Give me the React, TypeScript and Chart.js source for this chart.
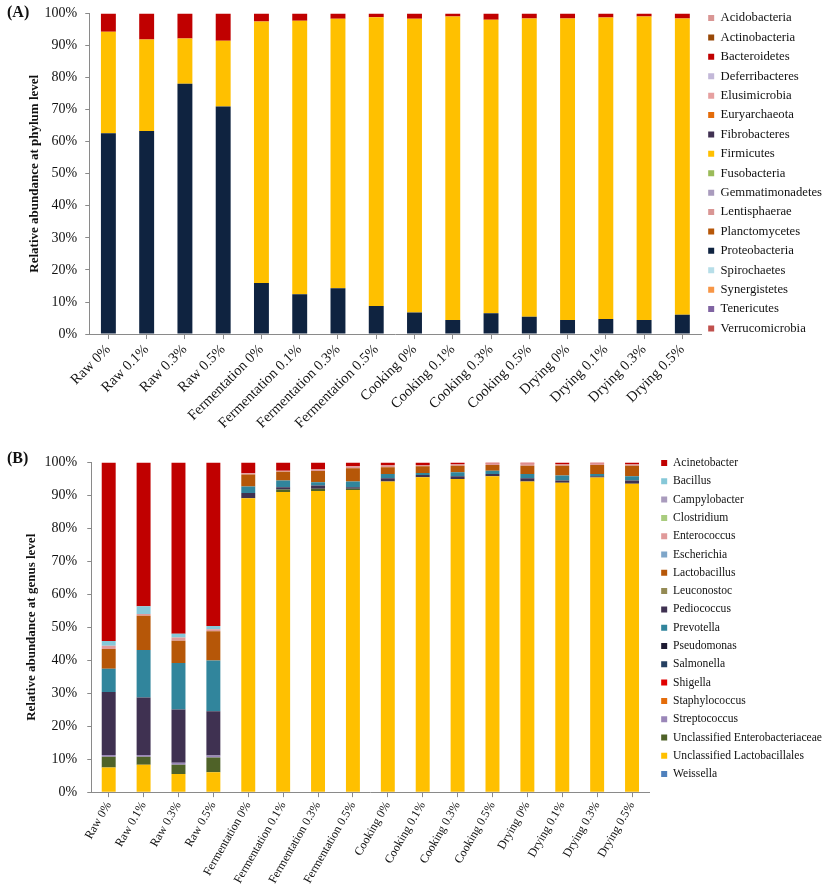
import React, { useEffect, useRef } from "react";
import { Chart, registerables } from "chart.js";

Chart.register(...registerables);

const samples = [
  "Raw 0%", "Raw 0.1%", "Raw 0.3%", "Raw 0.5%",
  "Fermentation 0%", "Fermentation 0.1%", "Fermentation 0.3%", "Fermentation 0.5%",
  "Cooking 0%", "Cooking 0.1%", "Cooking 0.3%", "Cooking 0.5%",
  "Drying 0%", "Drying 0.1%", "Drying 0.3%", "Drying 0.5%",
];

const yTicks = [0, 10, 20, 30, 40, 50, 60, 70, 80, 90, 100];

// ---- (A) phylum level, stacking order bottom -> top ----
const proteobacteria = [62.6, 63.3, 78.1, 71.0, 15.9, 12.4, 14.3, 8.8, 6.7, 4.4, 6.5, 5.4, 4.4, 4.7, 4.4, 6.0];
const firmicutes = [31.7, 28.6, 14.1, 20.5, 81.6, 85.3, 84.0, 90.0, 91.6, 94.6, 91.5, 93.0, 94.0, 94.0, 94.6, 92.4];
const bacteroidetes = [5.7, 8.1, 7.8, 8.5, 2.5, 2.3, 1.7, 1.2, 1.7, 1.0, 2.0, 1.6, 1.6, 1.3, 1.0, 1.6];
const phylumZero = [0, 0, 0, 0, 0, 0, 0, 0, 0, 0, 0, 0, 0, 0, 0, 0];

const phylumNames = [
  "Verrucomicrobia", "Tenericutes", "Synergistetes", "Spirochaetes", "Proteobacteria",
  "Planctomycetes", "Lentisphaerae", "Gemmatimonadetes", "Fusobacteria", "Firmicutes",
  "Fibrobacteres", "Euryarchaeota", "Elusimicrobia", "Deferribacteres", "Bacteroidetes",
  "Actinobacteria", "Acidobacteria",
];
const phylumValues = [
  phylumZero, phylumZero, phylumZero, phylumZero, proteobacteria,
  phylumZero, phylumZero, phylumZero, phylumZero, firmicutes,
  phylumZero, phylumZero, phylumZero, phylumZero, bacteroidetes,
  phylumZero, phylumZero,
];
const phylumColors = [
  "#C0504D", "#8064A2", "#F79646", "#B7DEE8", "#0F2340",
  "#B65708", "#D99694", "#A99BBD", "#9BBB59", "#FFC000",
  "#403152", "#E46C0A", "#E6A0A0", "#C3B8D8", "#C00000",
  "#984807", "#D99694",
];

// ---- (B) genus level, stacking order bottom -> top ----
const unclLactobacillales = [7.5, 8.3, 5.5, 6.0, 89.1, 91.0, 91.3, 91.6, 94.2, 95.5, 95.0, 95.8, 94.2, 93.8, 95.4, 93.5];
const unclEnterobacteriaceae = [3.2, 2.4, 2.8, 4.5, 0, 0.8, 0.7, 0.4, 0, 0, 0, 0, 0, 0, 0, 0];
const streptococcus = [0.6, 0.6, 0.6, 0.6, 0, 0, 0, 0, 0, 0, 0, 0, 0, 0, 0, 0];
const pediococcus = [19.1, 17.4, 16.2, 13.4, 1.6, 0.7, 1.0, 0.5, 1.0, 0.7, 0.8, 0.7, 1.0, 0.7, 0.4, 1.0];
const prevotella = [7.0, 14.4, 14.1, 15.4, 2.0, 2.0, 1.0, 1.7, 1.3, 0.6, 1.2, 1.0, 1.3, 1.5, 0.7, 1.3];
const lactobacillus = [6.0, 10.4, 6.7, 8.9, 3.6, 2.7, 3.4, 4.0, 2.0, 2.0, 2.0, 1.7, 2.5, 3.0, 2.7, 3.2];
const enterococcus = [1.0, 0.5, 1.0, 0.6, 0.4, 0.3, 0.6, 0.6, 0.7, 0.4, 0.5, 0.5, 0.7, 0.5, 0.5, 0.5];
const bacillus = [1.4, 2.4, 1.1, 1.0, 0, 0, 0, 0, 0, 0, 0, 0, 0, 0, 0, 0];
const acinetobacter = [54.2, 43.6, 52.0, 49.6, 3.3, 2.5, 2.0, 1.2, 0.8, 0.8, 0.5, 0.3, 0.3, 0.5, 0.3, 0.5];
const genusZero = [0, 0, 0, 0, 0, 0, 0, 0, 0, 0, 0, 0, 0, 0, 0, 0];

const genusNames = [
  "Weissella", "Unclassified Lactobacillales", "Unclassified Enterobacteriaceae", "Streptococcus",
  "Staphylococcus", "Shigella", "Salmonella", "Pseudomonas", "Pediococcus", "Prevotella",
  "Leuconostoc", "Lactobacillus", "Escherichia", "Enterococcus", "Clostridium",
  "Campylobacter", "Bacillus", "Acinetobacter",
];
const genusValues = [
  genusZero, unclLactobacillales, unclEnterobacteriaceae, streptococcus,
  genusZero, genusZero, genusZero, genusZero, pediococcus, prevotella,
  genusZero, lactobacillus, genusZero, enterococcus, genusZero,
  genusZero, bacillus, acinetobacter,
];
const genusColors = [
  "#4F81BD", "#FFC000", "#4F6228", "#9A86B8",
  "#E46C0A", "#E00000", "#254061", "#1E1B33", "#3F3151", "#31859C",
  "#948A54", "#B65708", "#7FA6C9", "#E09A9A", "#A9CC7E",
  "#A99BBD", "#86C8D8", "#C00000",
];

const FONT = "'Liberation Serif', 'Times New Roman', serif";

interface Look {
  yTitle: string;
  legendFont: number;
  legendPad: number;
  legendOffset: number;
  legendGap: number;
  barPct: number;
  xFont: number;
  xRot: number;
  yTickPad: number;
  titleGap: number;
  padding: any;
}

// widens the space between plot area and legend without moving the legend itself
function legendGapPlugin(gap: number): any {
  return {
    id: "legendGap",
    afterInit(chart: any) {
      const lg = chart.legend;
      if (!lg || gap === 0) return;
      const orig = lg.fit.bind(lg);
      lg.fit = () => {
        orig();
        lg.width += gap;
      };
    },
    afterLayout(chart: any) {
      const lg = chart.legend;
      if (!lg || gap === 0) return;
      lg.left += gap;
    },
  };
}

function makeConfig(names: string[], values: number[][], colors: string[], look: Look): any {
  return {
    type: "bar",
    data: {
      labels: samples,
      datasets: names.map((n, i) => ({
        label: n,
        data: values[i],
        backgroundColor: colors[i],
        borderWidth: 0,
        barPercentage: look.barPct,
        categoryPercentage: 1,
      })),
    },
    plugins: [legendGapPlugin(look.legendGap)],
    options: {
      animation: false,
      responsive: true,
      maintainAspectRatio: false,
      layout: { padding: look.padding },
      plugins: {
        tooltip: { enabled: false },
        legend: {
          position: "right",
          align: "start",
          title: {
            display: true,
            text: " ",
            padding: 0,
            font: { family: FONT, size: look.legendOffset, lineHeight: 1 },
          },
          labels: {
            sort: (a: any, b: any) => a.text.localeCompare(b.text),
            boxWidth: 6,
            boxHeight: 6,
            padding: look.legendPad,
            color: "#111",
            font: { family: FONT, size: look.legendFont },
          },
        },
      },
      scales: {
        x: {
          stacked: true,
          border: { display: true, color: "#8a8a8a", width: 1 },
          grid: { display: true, drawOnChartArea: false, offset: false, tickLength: 5, color: "#8a8a8a" },
          ticks: {
            minRotation: look.xRot,
            maxRotation: look.xRot,
            autoSkip: false,
            color: "#111",
            padding: 2,
            font: { family: FONT, size: look.xFont },
          },
        },
        y: {
          stacked: true,
          min: 0,
          max: 100,
          afterBuildTicks: (axis: any) => {
            axis.ticks = yTicks.map((v) => ({ value: v }));
          },
          border: { display: true, color: "#8a8a8a", width: 1 },
          grid: { display: true, drawOnChartArea: false, tickLength: 4, color: "#8a8a8a" },
          title: {
            display: true,
            text: look.yTitle,
            color: "#111",
            padding: { top: 0, bottom: look.titleGap },
            font: { family: FONT, size: 13, weight: "bold" },
          },
          ticks: {
            color: "#111",
            padding: look.yTickPad,
            font: { family: FONT, size: 14 },
            callback: (v: any) => v + "%",
          },
        },
      },
    },
  };
}

function ChartBox(props: { config: any; top: number; height: number }) {
  const ref = useRef<HTMLCanvasElement | null>(null);
  useEffect(() => {
    if (!ref.current) return;
    const chart = new Chart(ref.current, props.config);
    return () => chart.destroy();
  }, []);
  return (
    <div style={{ position: "absolute", left: 0, top: props.top, width: 832, height: props.height }}>
      <canvas ref={ref} />
    </div>
  );
}

export default function App() {
  const configA = makeConfig(phylumNames, phylumValues, phylumColors, {
    yTitle: "Relative abundance at phylum level",
    legendFont: 12.7,
    legendPad: 6.7,
    legendOffset: 8,
    legendGap: 0,
    barPct: 0.39,
    xFont: 14.5,
    xRot: 45,
    yTickPad: 8,
    titleGap: -6,
    padding: { top: 0, left: 27, right: 0, bottom: 6 },
  });
  const configB = makeConfig(genusNames, genusValues, genusColors, {
    yTitle: "Relative abundance at genus level",
    legendFont: 11.6,
    legendPad: 6.7,
    legendOffset: 6.5,
    legendGap: 5,
    barPct: 0.4,
    xFont: 12,
    xRot: 60,
    yTickPad: 10,
    titleGap: -5,
    padding: { top: 0, left: 24, right: 0, bottom: 4 },
  });
  const labelStyle: React.CSSProperties = {
    position: "absolute",
    left: 7,
    fontFamily: FONT,
    fontWeight: "bold",
    fontSize: 16,
    lineHeight: "16px",
    color: "#111",
  };
  return (
    <div style={{ position: "absolute", left: 0, top: 0, width: 827, height: 892, background: "#fff", overflow: "hidden" }}>
      <ChartBox config={configA} top={-3} height={443} />
      <ChartBox config={configB} top={444} height={448} />
      <div style={{ ...labelStyle, top: 4 }}>(A)</div>
      <div style={{ ...labelStyle, top: 450 }}>(B)</div>
    </div>
  );
}
